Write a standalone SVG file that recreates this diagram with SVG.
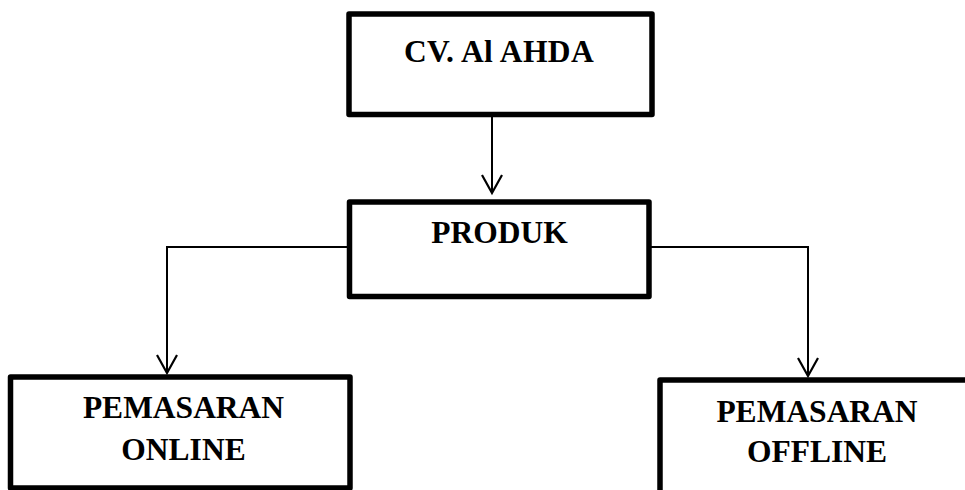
<svg xmlns="http://www.w3.org/2000/svg" width="965" height="490" viewBox="0 0 965 490">
<style>
.box{fill:#fff;stroke:#000;stroke-width:5.5;stroke-linejoin:round}
.lbl{font-family:"Liberation Serif","Times New Roman",serif;font-weight:bold;font-size:31.5px;fill:#000;text-anchor:middle}
.ln{fill:none;stroke:#000;stroke-width:2}
.ah{fill:none;stroke:#000;stroke-width:2.2}
</style>
<rect width="965" height="490" fill="#fff"/>
<g id="connectors">
<line class="ln" x1="492" y1="117" x2="492" y2="192"/>
<polyline class="ah" points="482,175 492,193 502,175"/>
<polyline class="ln" points="349,247 167,247 167,372"/>
<polyline class="ah" points="157,355 167,373 177,355"/>
<polyline class="ln" points="649,247 808,247 808,375"/>
<polyline class="ah" points="798,358 808,376 818,358"/>
</g>
<g id="node-cv">
<rect class="box" x="349" y="14" width="303" height="100.5"/>
<text class="lbl" x="499" y="62" style="letter-spacing:0.4px">CV. Al AHDA</text>
</g>
<g id="node-produk">
<rect class="box" x="349.5" y="202" width="299.5" height="94.5"/>
<text class="lbl" x="499.5" y="243">PRODUK</text>
</g>
<g id="node-online">
<rect class="box" x="10.5" y="377" width="339.5" height="111"/>
<text class="lbl" x="183.5" y="418">PEMASARAN</text>
<text class="lbl" x="183.5" y="460">ONLINE</text>
</g>
<g id="node-offline">
<rect class="box" x="660" y="380" width="330" height="130"/>
<text class="lbl" x="817" y="422">PEMASARAN</text>
<text class="lbl" x="817" y="462">OFFLINE</text>
</g>
</svg>
